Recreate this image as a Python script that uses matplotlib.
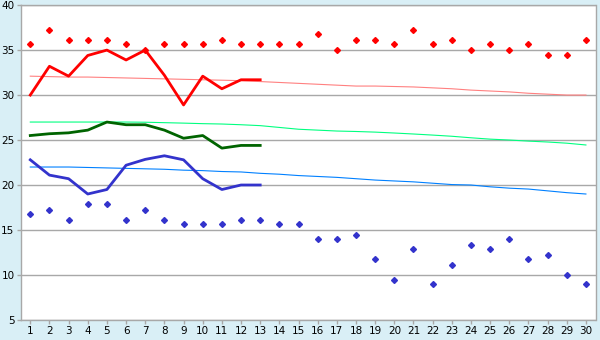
import numpy as np
import matplotlib
matplotlib.use("Agg")
from matplotlib import pyplot as plt

# days of the month
days = list(range(1, 31))

# daily maxima / minima (diamonds)
t_max = [35.7, 37.2, 36.1, 36.1, 36.1, 35.7, 35.0, 35.7, 35.7, 35.7,
         36.1, 35.7, 35.7, 35.7, 35.7, 36.8, 35.0, 36.1, 36.1, 35.7,
         37.2, 35.7, 36.1, 35.0, 35.7, 35.0, 35.7, 34.4, 34.4, 36.1]
t_min = [16.8, 17.2, 16.1, 17.9, 17.9, 16.1, 17.2, 16.1, 15.7, 15.7,
         15.7, 16.1, 16.1, 15.7, 15.7, 14.0, 14.0, 14.4, 11.8, 9.4,
         12.9, 9.0, 11.1, 13.3, 12.9, 14.0, 11.8, 12.2, 10.0, 9.0]

# current month lines (days 1-13)
cur_days = list(range(1, 14))
cur_max = [30.0, 33.2, 32.1, 34.4, 35.0, 33.9, 35.0, 32.2, 28.9, 32.1, 30.7, 31.7, 31.7]
cur_mean = [25.5, 25.7, 25.8, 26.1, 27.0, 26.7, 26.7, 26.1, 25.2, 25.5, 24.1, 24.4, 24.4]
cur_min = [22.8, 21.1, 20.7, 19.0, 19.5, 22.2, 22.85, 23.25, 22.8, 20.7, 19.5, 20.0, 20.0]

# long-term reference curves
ref_max = [32.1, 32.05, 32.0, 32.0, 31.95, 31.9, 31.85, 31.8, 31.75, 31.7,
           31.65, 31.6, 31.5, 31.4, 31.3, 31.2, 31.1, 31.0, 31.0, 30.95,
           30.9, 30.8, 30.7, 30.55, 30.45, 30.35, 30.2, 30.1, 30.0, 30.0]
ref_mean = [27.0, 27.0, 27.0, 27.0, 27.0, 27.0, 26.98, 26.93, 26.88, 26.82,
            26.78, 26.7, 26.6, 26.4, 26.2, 26.1, 26.0, 25.95, 25.88, 25.78,
            25.67, 25.55, 25.42, 25.25, 25.1, 25.0, 24.88, 24.78, 24.65, 24.45]
ref_min = [22.0, 22.0, 22.0, 21.95, 21.9, 21.85, 21.8, 21.75, 21.65, 21.6,
           21.5, 21.45, 21.3, 21.2, 21.05, 20.95, 20.85, 20.7, 20.55, 20.45,
           20.35, 20.2, 20.05, 20.0, 19.8, 19.65, 19.55, 19.35, 19.15, 19.0]

bg_color = "#d9eff6"
grid_color = "#a8a8a8"

fig = plt.figure(figsize=(6.0, 3.4), dpi=100, facecolor=bg_color)
ax = fig.add_axes([0.0345, 0.059, 0.958, 0.926])
ax.set_facecolor("white")

ax.plot(days, ref_max, color="#ff8080", linewidth=0.8)
ax.plot(days, ref_mean, color="#00ff80", linewidth=0.8)
ax.plot(days, ref_min, color="#0080ff", linewidth=0.8)

ax.plot(cur_days, cur_max, color="#ff0000", linewidth=2.0)
ax.plot(cur_days, cur_mean, color="#006400", linewidth=2.0)
ax.plot(cur_days, cur_min, color="#3333cc", linewidth=2.0)

ax.plot(days, t_max, linestyle="none", marker="D", markersize=3.0, color="#ff0000")
ax.plot(days, t_min, linestyle="none", marker="D", markersize=3.0, color="#3333cc")

ax.set_xlim(0.5, 30.5)
ax.set_ylim(5, 40)
ax.set_xticks(days)
ax.set_yticks(np.arange(5, 41, 5))
ax.yaxis.grid(True, color=grid_color, linewidth=1.0)
ax.set_axisbelow(True)

for s in ax.spines.values():
    s.set_color(grid_color)
    s.set_linewidth(1.0)

ax.tick_params(axis="both", colors=grid_color, labelcolor="black", labelsize=7.5,
               length=3, width=1, pad=1.5)

plt.savefig("out.png", dpi=100, facecolor=bg_color)
